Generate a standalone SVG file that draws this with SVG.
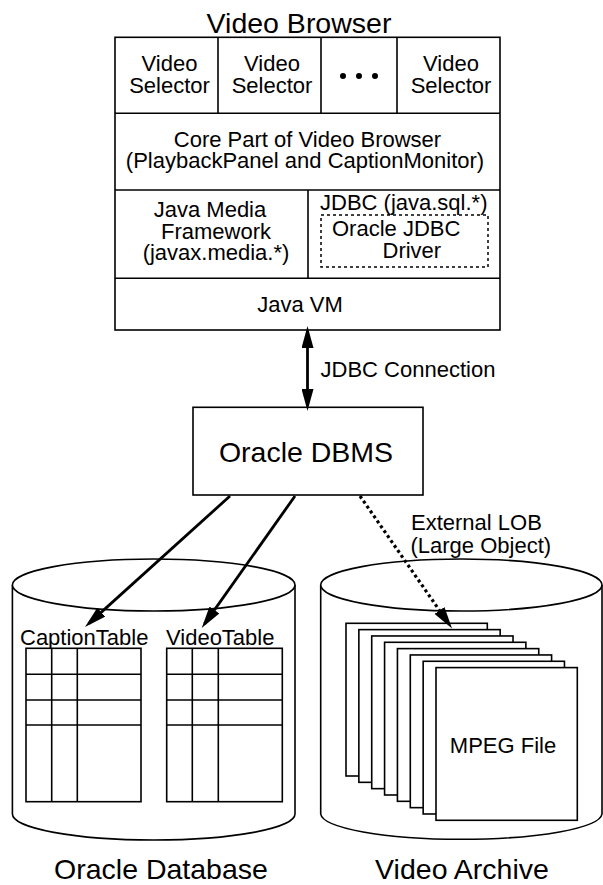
<svg xmlns="http://www.w3.org/2000/svg" width="603" height="885" viewBox="0 0 603 885">
<style>
text{font-family:"Liberation Sans",Arial,Helvetica,sans-serif;fill:#000}
.t22{font-size:22px}
.t28{font-size:28.5px}
.m{text-anchor:middle}
.box{fill:#fff;stroke:#000;stroke-width:1.6}
.ln{fill:none;stroke:#000;stroke-width:1.6}
.dash{fill:none;stroke:#000;stroke-width:1.5;stroke-dasharray:3 3}
.arr{fill:none;stroke:#000;stroke-width:2.8}
.dot{fill:none;stroke:#000;stroke-width:3.2;stroke-dasharray:3 3}
</style>
<defs>
<marker id="ah" markerUnits="userSpaceOnUse" markerWidth="22" markerHeight="12" refX="17" refY="6" orient="auto-start-reverse">
<path d="M0,0 L22,6 L0,12 z" fill="#000"/>
</marker>
</defs>
<rect width="603" height="885" fill="#fff"/>

<g id="video-browser">
<text class="t28 m" x="299" y="33">Video Browser</text>
<rect class="box" x="115" y="37.3" width="385" height="292.7"/>
<line class="ln" x1="115" y1="113.3" x2="500" y2="113.3"/>
<line class="ln" x1="115" y1="190" x2="500" y2="190"/>
<line class="ln" x1="115" y1="278.3" x2="500" y2="278.3"/>
<line class="ln" x1="218" y1="37.3" x2="218" y2="113.3"/>
<line class="ln" x1="321" y1="37.3" x2="321" y2="113.3"/>
<line class="ln" x1="397" y1="37.3" x2="397" y2="113.3"/>
<line class="ln" x1="308" y1="190" x2="308" y2="278.3"/>
</g>

<g id="video-selector-1">
<text class="t22 m" x="169.5" y="71">Video</text>
<text class="t22 m" x="169.5" y="93">Selector</text>
</g>
<g id="video-selector-2">
<text class="t22 m" x="272" y="71">Video</text>
<text class="t22 m" x="272" y="93">Selector</text>
</g>
<g id="ellipsis">
<circle cx="343" cy="76" r="3"/>
<circle cx="359" cy="76" r="3"/>
<circle cx="375" cy="76" r="3"/>
</g>
<g id="video-selector-3">
<text class="t22 m" x="451" y="71">Video</text>
<text class="t22 m" x="451" y="93">Selector</text>
</g>
<g id="core-part">
<text class="t22 m" x="307.5" y="146.7">Core Part of Video Browser</text>
<text class="t22 m" x="305" y="168.3">(PlaybackPanel and CaptionMonitor)</text>
</g>
<g id="jmf">
<text class="t22 m" x="210" y="216.7">Java Media</text>
<text class="t22 m" x="216" y="239">Framework</text>
<text class="t22 m" x="216" y="260">(javax.media.*)</text>
</g>
<g id="jdbc">
<text class="t22" x="320" y="210">JDBC (java.sql.*)</text>
<rect class="dash" x="321" y="215" width="167" height="52"/>
<text class="t22" x="332" y="236">Oracle JDBC</text>
<text class="t22" x="382.5" y="258.3">Driver</text>
</g>
<g id="java-vm">
<text class="t22 m" x="300" y="312.3">Java VM</text>
</g>

<g id="oracle-dbms">
<rect class="box" x="193" y="407.3" width="230" height="87.7"/>
<text class="t28 m" x="306" y="461.7">Oracle DBMS</text>
</g>

<g id="oracle-database">
<path class="box" d="M12.4,585 V814 A141.3,26 0 0 0 295,814 V585"/>
<ellipse class="box" cx="153.7" cy="585" rx="141.3" ry="26"/>
<text class="t22" x="20" y="645">CaptionTable</text>
<text class="t22" x="166" y="645">VideoTable</text>
<g id="caption-table">
<rect class="box" x="26" y="648.3" width="115" height="153.4"/>
<line class="ln" x1="51.7" y1="648.3" x2="51.7" y2="801.7"/>
<line class="ln" x1="77.3" y1="648.3" x2="77.3" y2="801.7"/>
<line class="ln" x1="26" y1="674.3" x2="141" y2="674.3"/>
<line class="ln" x1="26" y1="700" x2="141" y2="700"/>
<line class="ln" x1="26" y1="725" x2="141" y2="725"/>
</g>
<g id="video-table">
<rect class="box" x="166.7" y="648.3" width="115.6" height="153.4"/>
<line class="ln" x1="192.3" y1="648.3" x2="192.3" y2="801.7"/>
<line class="ln" x1="218.3" y1="648.3" x2="218.3" y2="801.7"/>
<line class="ln" x1="166.7" y1="674.3" x2="282.3" y2="674.3"/>
<line class="ln" x1="166.7" y1="700" x2="282.3" y2="700"/>
<line class="ln" x1="166.7" y1="725" x2="282.3" y2="725"/>
</g>
<text class="t28 m" x="161" y="879">Oracle Database</text>
</g>

<g id="video-archive">
<path class="box" d="M320.7,585 V814 A140.7,26 0 0 0 602,814 V585"/>
<ellipse class="box" cx="461.35" cy="585" rx="140.65" ry="26"/>
<rect class="box" x="346" y="623.3" width="141.3" height="152.7"/>
<rect class="box" x="358.86" y="629.63" width="141.3" height="152.7"/>
<rect class="box" x="371.72" y="635.96" width="141.3" height="152.7"/>
<rect class="box" x="384.58" y="642.29" width="141.3" height="152.7"/>
<rect class="box" x="397.44" y="648.62" width="141.3" height="152.7"/>
<rect class="box" x="410.3" y="654.95" width="141.3" height="152.7"/>
<rect class="box" x="423.16" y="661.28" width="141.3" height="152.7"/>
<rect class="box" x="436" y="667.6" width="141.3" height="152.7"/>
<text class="t22 m" x="503" y="752.7">MPEG File</text>
<text class="t28 m" x="462" y="879">Video Archive</text>
</g>

<g id="connectors">
<line class="arr" x1="307.5" y1="331" x2="307.5" y2="406" marker-start="url(#ah)" marker-end="url(#ah)"/>
<text class="t22" x="320.5" y="376.7">JDBC Connection</text>
<line class="arr" x1="230" y1="496" x2="88.7" y2="623.6" marker-end="url(#ah)"/>
<line class="arr" x1="295" y1="496" x2="204.6" y2="623.9" marker-end="url(#ah)"/>
<line class="dot" x1="360" y1="496" x2="449.2" y2="624.4" marker-end="url(#ah)"/>
<text class="t22" x="411" y="530">External LOB</text>
<text class="t22" x="410.5" y="552.7">(Large Object)</text>
</g>
</svg>
